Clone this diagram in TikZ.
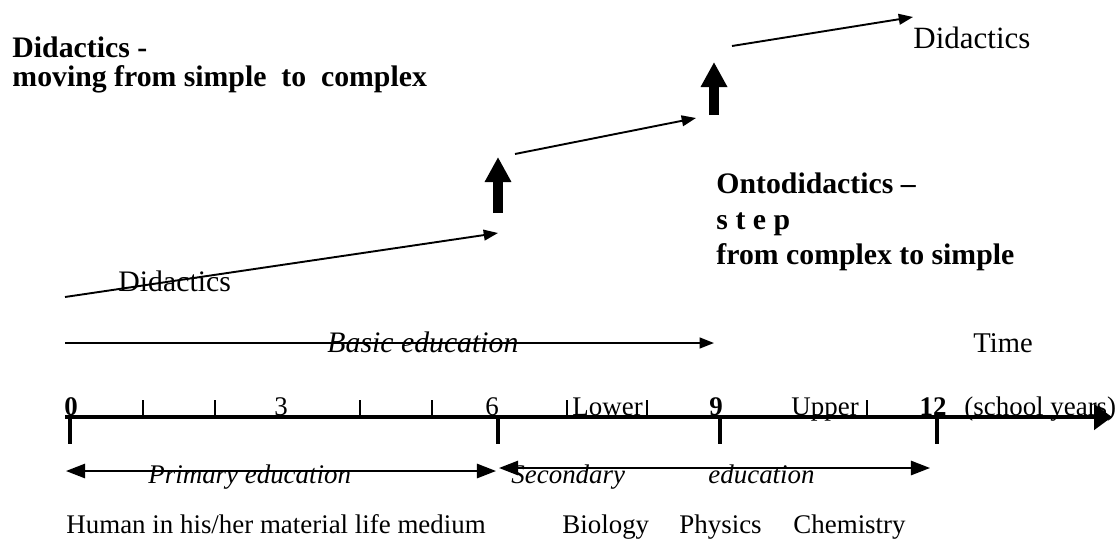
\documentclass[tikz,border=0pt]{standalone}
\usepackage{fontspec}
\setmainfont{Liberation Serif}
\usepackage{tikz}
\usetikzlibrary{positioning, arrows.meta}

\begin{document}
\begin{tikzpicture}[x=0.42pt, y=-0.42pt,
		txt/.style={inner sep=0pt, anchor=base west, font=\fontsize{12.5}{15}\selectfont},
		boldtxt/.style={txt, font=\fontsize{12.5}{15}\selectfont\bfseries},
		ittxt/.style={txt, font=\fontsize{12.5}{15}\selectfont\itshape},
		smtxt/.style={inner sep=0pt, anchor=base west, font=\fontsize{11.3}{13.5}\selectfont},
		smbold/.style={smtxt, font=\fontsize{11.3}{13.5}\selectfont\bfseries},
		smit/.style={smtxt, font=\fontsize{11.3}{13.5}\selectfont\itshape},
		thinarrow/.style={line width=0.8pt, -{Triangle[length=6pt, width=4.5pt]}},
		blockarrow/.style={line width=3.8pt, -{Triangle[length=10.5pt, width=10.5pt]}},
		spanarrow/.style={line width=0.8pt, {Triangle[length=8pt, width=6pt]}-{Triangle[length=8pt, width=6pt]}},
		axisline/.style={line width=1.7pt, -{Triangle[length=7.5pt, width=10.5pt]}},
		majortick/.style={line width=1.7pt},
		minortick/.style={line width=0.8pt}]
		\useasboundingbox (0,0) rectangle (1118,541);
		
		% headings
		\node[boldtxt] (dtitle) at (12,57) {Didactics -};
		\node[boldtxt] (dmove) at (12,86) {moving from simple\ \ to\ \ complex};
		\node[txt, font=\fontsize{13}{15}\selectfont] (dtop) at (913,48) {Didactics};
		\node[txt] (dlow) at (118,291) {Didactics};
		\node[boldtxt] (onto) at (716,193) {Ontodidactics --};
		\node[boldtxt] (step) at (716,229) {s t e p};
		\node[boldtxt] (fromc) at (716,264) {from complex to simple};
		
		% didactics path and steps
		\coordinate (d1s) at (65,297);
		\coordinate (d1e) at (498,233);
		\coordinate (d2s) at (515,154);
		\coordinate (d2e) at (696,118);
		\coordinate (d3s) at (732,46);
		\coordinate (d3e) at (913,17);
		\coordinate (up1s) at (498,213);
		\coordinate (up1e) at (498,157);
		\coordinate (up2s) at (714,115);
		\coordinate (up2e) at (714,62);
		\draw[thinarrow] (d1s) -- (d1e);
		\draw[thinarrow] (d2s) -- (d2e);
		\draw[thinarrow] (d3s) -- (d3e);
		\draw[blockarrow] (up1s) -- (up1e);
		\draw[blockarrow] (up2s) -- (up2e);
		
		% basic education
		\coordinate (bs) at (65,343);
		\coordinate (be) at (714,343);
		\draw[thinarrow] (bs) -- (be);
		\node[ittxt] (basic) at (327,352) {Basic education};
		\node[txt, font=\fontsize{12}{14}\selectfont] (time) at (973,352) {Time};
		
		% time axis
		\coordinate (ax0) at (65,417);
		\coordinate (ax1) at (1112,417);
		\draw[axisline] (ax0) -- (ax1);
		\foreach \x in {143,215,360,432,567,647,867}
			\draw[minortick] (\x,400) -- (\x,417);
		\foreach \x/\n in {70/0,498/6,720/9,937/12} {
			\coordinate (tick\n) at (\x,417);
			\draw[majortick] (tick\n) -- ++(0,27);
		}
		\node[smbold, anchor=base] (l0) at (71,415) {0};
		\node[smtxt, anchor=base] (l3) at (281,415) {3};
		\node[smtxt, anchor=base] (l6) at (492,415) {6};
		\node[smtxt] (lower) at (572,415) {Lower};
		\node[smbold, anchor=base] (l9) at (716,415) {9};
		\node[smtxt] (upper) at (791,415) {Upper};
		\node[smbold, anchor=base] (l12) at (933,415) {12};
		\node[smtxt] (years) at (964,415) {(school years)};
		
		% school stages
		\coordinate (ps) at (66,471);
		\coordinate (pe) at (496,471);
		\coordinate (ss) at (499,468);
		\coordinate (se) at (930,468);
		\draw[spanarrow] (ps) -- (pe);
		\draw[spanarrow] (ss) -- (se);
		\node[smit] (prim) at (148,483) {Primary education};
		\node[smit] (sec) at (511,483) {Secondary};
		\node[smit] (seced) at (708,483) {education};
		
		% subjects
		\node[smtxt] (human) at (66,533) {Human in his/her material life medium};
		\node[smtxt] (bio) at (562,533) {Biology};
		\node[smtxt] (phys) at (679,533) {Physics};
		\node[smtxt] (chem) at (793,533) {Chemistry};
	\end{tikzpicture}
\end{document}
